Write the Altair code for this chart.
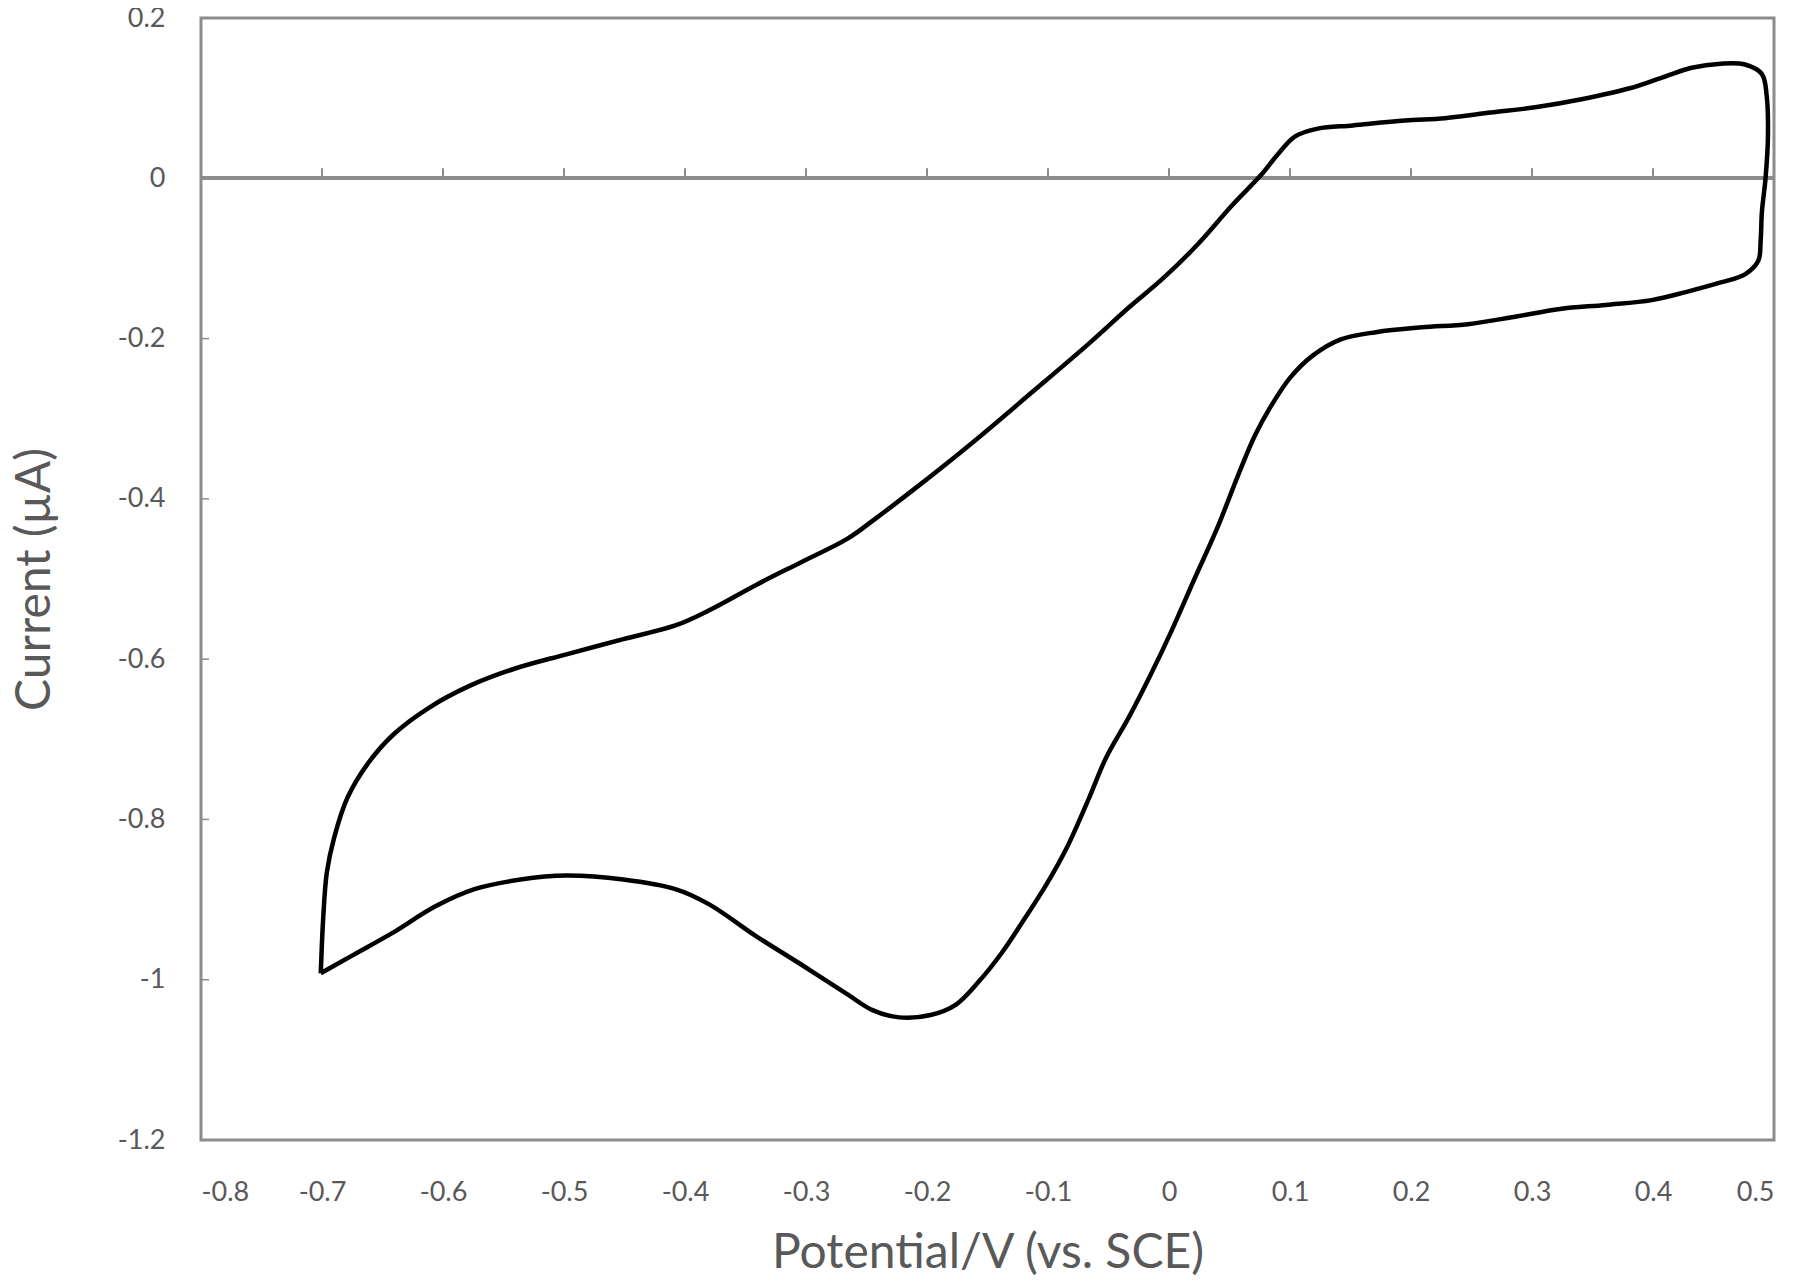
import altair as alt
import pandas as pd

# Cyclic voltammogram (V vs SCE, µA)
potential = [
    -0.701, -0.699, -0.696, -0.690, -0.679, -0.662, -0.641, -0.612, -0.579, -0.541,
    -0.498, -0.451, -0.408, -0.380, -0.342, -0.304, -0.266, -0.242, -0.209, -0.161,
    -0.114, -0.066, -0.033, -0.005, 0.024, 0.052, 0.076, 0.090, 0.104, 0.123,
    0.152, 0.195, 0.228, 0.266, 0.304, 0.342, 0.380, 0.408, 0.432, 0.456,
    0.476, 0.490, 0.494, 0.495, 0.493, 0.490, 0.489, 0.487, 0.476, 0.456,
    0.427, 0.399, 0.361, 0.323, 0.285, 0.247, 0.209, 0.171, 0.142, 0.119,
    0.100, 0.084, 0.071, 0.057, 0.040, 0.021, 0.002, -0.016, -0.033, -0.052,
    -0.066, -0.085, -0.102, -0.119, -0.138, -0.157, -0.176, -0.197, -0.223, -0.245,
    -0.266, -0.304, -0.342, -0.380, -0.408, -0.451, -0.498, -0.536, -0.574, -0.607,
    -0.641, -0.674, -0.701,
]
current = [
    -0.992, -0.923, -0.866, -0.823, -0.773, -0.730, -0.694, -0.661, -0.634, -0.612,
    -0.594, -0.575, -0.558, -0.539, -0.508, -0.479, -0.450, -0.424, -0.386, -0.328,
    -0.268, -0.206, -0.161, -0.125, -0.082, -0.034, 0.004, 0.030, 0.052, 0.062,
    0.066, 0.072, 0.075, 0.082, 0.089, 0.099, 0.112, 0.126, 0.138, 0.143,
    0.142, 0.130, 0.102, 0.052, 0.000, -0.042, -0.077, -0.103, -0.120, -0.130,
    -0.142, -0.152, -0.158, -0.163, -0.173, -0.182, -0.186, -0.192, -0.201, -0.221,
    -0.249, -0.285, -0.321, -0.371, -0.436, -0.500, -0.565, -0.622, -0.672, -0.723,
    -0.773, -0.837, -0.883, -0.923, -0.966, -1.002, -1.031, -1.044, -1.047, -1.038,
    -1.018, -0.981, -0.945, -0.906, -0.887, -0.875, -0.870, -0.875, -0.887, -0.909,
    -0.941, -0.969, -0.992,
]

x_ticks = [-0.8, -0.7, -0.6, -0.5, -0.4, -0.3, -0.2, -0.1, 0, 0.1, 0.2, 0.3, 0.4, 0.5]
y_ticks = [0.2, 0, -0.2, -0.4, -0.6, -0.8, -1, -1.2]

x_title = "Potential/V (vs. SCE)"
y_title = "Current (µA)"

W, H = 1573, 1122
GRAY = "#8c8c8c"
TXT = "#595959"
FONT = "Lato"

cv = pd.DataFrame({"E": potential, "I": current, "idx": list(range(len(potential)))})
xt = pd.DataFrame({"E": x_ticks})
yt = pd.DataFrame({"I": y_ticks})

xscale = alt.Scale(domain=[-0.8, 0.5], nice=False, zero=False)
yscale = alt.Scale(domain=[-1.2, 0.2], nice=False, zero=False)

xaxis = alt.Axis(
    values=x_ticks, labelExpr="'' + datum.value", grid=False, ticks=False, domain=False,
    labelFont=FONT, labelFontSize=27, labelColor=TXT, labelPadding=39,
    title=x_title, titleFont=FONT, titleFontSize=48, titleFontWeight="normal",
    titleColor=TXT, titleX=W / 2, titleY=113, titleBaseline="middle", titleAlign="center",
)
yaxis = alt.Axis(
    values=y_ticks, labelExpr="'' + datum.value", grid=False, ticks=False, domain=False,
    labelFont=FONT, labelFontSize=27, labelColor=TXT, labelPadding=36,
    title=y_title, titleFont=FONT, titleFontSize=48, titleFontWeight="normal",
    titleColor=TXT, titleX=-166, titleY=H / 2, titleBaseline="middle", titleAlign="center",
    titleAngle=270,
)

line = alt.Chart(cv).mark_line(color="black", strokeWidth=4.5, interpolate="catmull-rom").encode(
    x=alt.X("E:Q", scale=xscale, axis=xaxis),
    y=alt.Y("I:Q", scale=yscale, axis=yaxis),
    order="idx:Q",
)

zero_line = alt.Chart(xt).mark_rule(color=GRAY, strokeWidth=3).encode(
    y=alt.datum(0, scale=yscale),
    x=alt.value(0),
    x2=alt.value(W),
)

x_tickmarks = alt.Chart(xt).mark_rule(color=GRAY, strokeWidth=2, y2Offset=-10).encode(
    x=alt.X("E:Q", scale=xscale),
    y=alt.datum(0, scale=yscale),
    y2=alt.datum(0),
)

y_tickmarks = alt.Chart(yt).mark_rule(color=GRAY, strokeWidth=1.5, x2Offset=8).encode(
    y=alt.Y("I:Q", scale=yscale),
    x=alt.datum(-0.8, scale=xscale),
    x2=alt.datum(-0.8),
)

chart = alt.layer(zero_line, x_tickmarks, y_tickmarks, line).properties(
    width=W, height=H,
    autosize=alt.AutoSizeParams(type="none"),
    padding={"left": 193, "top": 10, "right": 17, "bottom": 137},
    background="white",
).configure_view(stroke=GRAY, strokeWidth=3)

chart.save("out.html", embed_options={"renderer": "svg", "actions": False})
